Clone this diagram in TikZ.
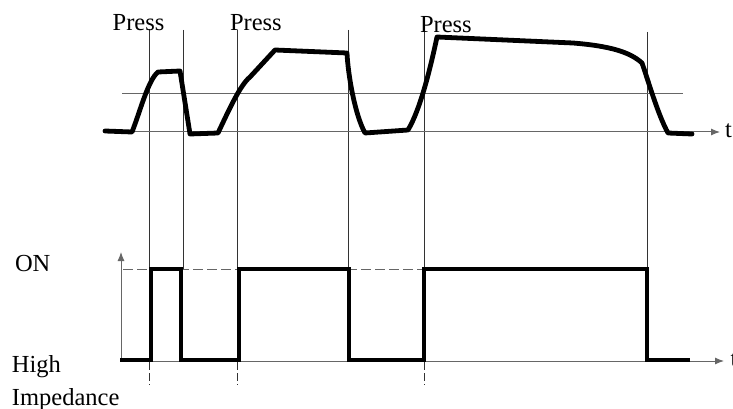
\documentclass[tikz,border=0pt]{standalone}
\usepackage{fontspec}
\setmainfont{Liberation Serif}
\usetikzlibrary{arrows.meta}
\begin{document}
\begin{tikzpicture}[x=1pt,y=-1pt,
  lbl/.style={anchor=base west,inner sep=0pt,outer sep=0pt,font=\fontsize{24.5}{26}\selectfont},
  sig/.style={line width=4.8pt,line join=round,line cap=round},
  pulse/.style={line width=4.8pt,line join=miter},
  thinln/.style={line width=1pt,draw=black!60},
  gridln/.style={line width=1pt,draw=black!80},
  axarrow/.style={-{Latex[length=9pt,width=7pt]}}
]
\useasboundingbox (0,0) rectangle (733,409);
\clip (0,0) rectangle (733,409);
\fill[white] (0,0) rectangle (733,409);

% vertical guide lines
\foreach \x/\t in {149/29,183/30,237/30,348/30,424/17,647/32}
  \draw[gridln] (\x,\t) -- (\x,269);
\foreach \x in {149,237,424}
  \draw[gridln,dash pattern=on 8pt off 3pt] (\x,362) -- (\x,385);

% top axes
\draw[thinln,axarrow] (103,132) -- (720,132);
\draw[thinln] (122,94) -- (683,94);

% bottom axes
\draw[thinln,axarrow] (121,361) -- (121,252);
\draw[thinln,axarrow] (120,361) -- (724,361);
\draw[thinln,dash pattern=on 10pt off 4pt] (123,269) -- (647,269);

% analog signal
\draw[sig] (105,131) -- (132,132) .. controls (140,112) and (148,80) .. (158,72)
  -- (180,71) -- (190,134) -- (218,133)
  .. controls (228,112) and (240,85) .. (250,77) -- (275,50) -- (347,53)
  .. controls (348,75) and (355,115) .. (365,133) -- (408,130)
  .. controls (420,110) and (430,70) .. (437,37) -- (573,43)
  .. controls (610,46) and (630,52) .. (642,63)
  .. controls (648,80) and (658,115) .. (668,133) -- (692,134);

% digital output
\draw[pulse] (120,360) -- (151,360) -- (151,269) -- (181,269) -- (181,360)
  -- (239,360) -- (239,269) -- (349,269) -- (349,360) -- (424,360)
  -- (424,269) -- (647,269) -- (647,360) -- (690,360);

% labels
\node[lbl] (p1) at (112.7,30.7) {Press};
\node[lbl] (p2) at (230,30.7) {Press};
\node[lbl] (p3) at (420,33) {Press};
\node[lbl] (on) at (15,271) {ON};
\node[lbl] (hi) at (12,372) {High};
\node[lbl] (imp) at (12,405) {Impedance};
\node[lbl] (t1) at (725,137) {t};
\node[lbl] (t2) at (730.5,366) {t};
\end{tikzpicture}
\end{document}
